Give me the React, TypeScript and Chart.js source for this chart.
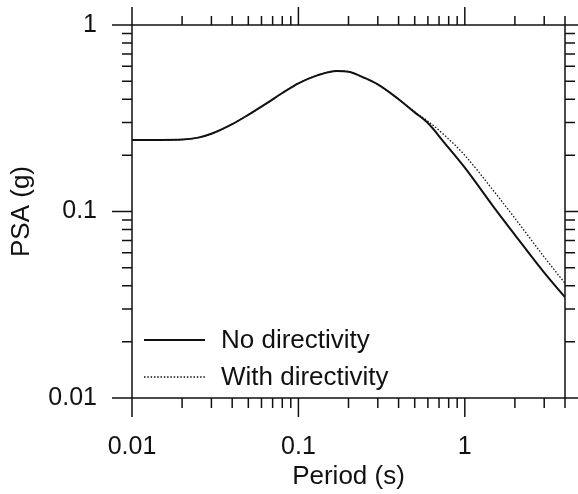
import React, { useEffect, useRef } from "react";
import { Chart, registerables } from "chart.js";

Chart.register(...registerables);

const periods = [0.01, 0.015, 0.02, 0.025, 0.03, 0.04, 0.05, 0.065, 0.08, 0.1, 0.13, 0.17, 0.2, 0.25, 0.3, 0.4, 0.5, 0.6, 0.75, 1, 1.5, 2, 3, 4];
const noDirectivity = [0.242, 0.242, 0.243, 0.249, 0.261, 0.294, 0.33, 0.382, 0.432, 0.487, 0.537, 0.567, 0.562, 0.52, 0.48, 0.4, 0.34, 0.298, 0.235, 0.172, 0.105, 0.075, 0.047, 0.0347];
const withDirectivity = [0.242, 0.242, 0.243, 0.249, 0.261, 0.294, 0.33, 0.382, 0.432, 0.487, 0.537, 0.567, 0.562, 0.52, 0.48, 0.4, 0.342, 0.305, 0.258, 0.2, 0.128, 0.092, 0.057, 0.0412];

const seriesNames = ["No directivity", "With directivity"];
const xTickValues = [0.01, 0.02, 0.03, 0.04, 0.05, 0.06, 0.07, 0.08, 0.09, 0.1, 0.2, 0.3, 0.4, 0.5, 0.6, 0.7, 0.8, 0.9, 1, 2, 3, 4];
const xTickLabels: Record<string, string> = { "0.01": "0.01", "0.1": "0.1", "1": "1" };
const yTickValues = [0.01, 0.02, 0.03, 0.04, 0.05, 0.06, 0.07, 0.08, 0.09, 0.1, 0.2, 0.3, 0.4, 0.5, 0.6, 0.7, 0.8, 0.9, 1];
const yTickLabels: Record<string, string> = { "0.01": "0.01", "0.1": "0.1", "1": "1" };
const xTitle = "Period (s)";
const yTitle = "PSA (g)";

const FONT = "'Liberation Sans', Arial, sans-serif";
const INK = "#111111";

const isDecade = (v: number) => Math.abs(Math.log10(v) - Math.round(Math.log10(v))) < 1e-9;

const framePlugin = {
  id: "frameTicksLegend",
  afterDraw(chart: any) {
    const ctx = chart.ctx;
    const { left, right, top, bottom } = chart.chartArea;
    const xs = chart.scales.x;
    const ys = chart.scales.y;
    ctx.save();
    ctx.strokeStyle = INK;
    ctx.lineWidth = 1.5;
    ctx.lineCap = "butt";
    ctx.beginPath();
    ctx.rect(left, top, right - left, bottom - top);
    ctx.stroke();
    ctx.beginPath();
    for (const v of xTickValues) {
      const px = xs.getPixelForValue(v);
      const major = isDecade(v);
      ctx.moveTo(px, bottom);
      ctx.lineTo(px, bottom + (major ? 19 : 10));
      ctx.moveTo(px, top);
      ctx.lineTo(px, top - (major ? 18 : 9));
    }
    for (const v of yTickValues) {
      const py = ys.getPixelForValue(v);
      const major = isDecade(v);
      ctx.moveTo(left, py);
      ctx.lineTo(left - (major ? 20 : 10), py);
      ctx.moveTo(right, py);
      ctx.lineTo(right + (major ? 20 : 10), py);
    }
    ctx.stroke();

    const ds = chart.data.datasets;
    const rows = [bottom - 58, bottom - 21];
    ctx.font = `26px ${FONT}`;
    ctx.textBaseline = "middle";
    ctx.textAlign = "left";
    ds.forEach((d: any, i: number) => {
      const y = rows[i];
      ctx.beginPath();
      ctx.strokeStyle = d.borderColor;
      ctx.lineWidth = d.borderWidth;
      ctx.setLineDash(d.borderDash || []);
      ctx.moveTo(left + 12, y);
      ctx.lineTo(left + 73, y);
      ctx.stroke();
      ctx.setLineDash([]);
      ctx.fillStyle = INK;
      ctx.fillText(d.label, left + 89, y + 1);
    });
    ctx.restore();
  },
};

export default function App() {
  const ref = useRef<HTMLCanvasElement | null>(null);
  useEffect(() => {
    if (!ref.current) return;
    const chart = new Chart(ref.current, {
      type: "line",
      data: {
        datasets: [
          {
            label: seriesNames[0],
            data: periods.map((p, i) => ({ x: p, y: noDirectivity[i] })),
            borderColor: INK,
            borderWidth: 2,
            pointRadius: 0,
            fill: false,
            cubicInterpolationMode: "monotone",
          },
          {
            label: seriesNames[1],
            data: periods.map((p, i) => ({ x: p, y: withDirectivity[i] })),
            borderColor: INK,
            borderWidth: 1.3,
            borderDash: [1.5, 1.8],
            pointRadius: 0,
            fill: false,
            cubicInterpolationMode: "monotone",
          },
        ],
      },
      options: {
        responsive: false,
        animation: false,
        events: [],
        layout: { padding: { top: 25, right: 13, left: 0, bottom: 0 } },
        plugins: { legend: { display: false }, tooltip: { enabled: false } },
        scales: {
          x: {
            type: "logarithmic",
            position: "bottom",
            min: 0.01,
            max: 4,
            afterBuildTicks: (scale: any) => {
              scale.ticks = xTickValues.map((v) => ({ value: v, major: isDecade(v) }));
            },
            afterFit: (scale: any) => {
              scale.height = 96;
            },
            grid: { display: false, drawTicks: true, tickLength: 34 },
            border: { display: false },
            ticks: {
              autoSkip: false,
              maxRotation: 0,
              padding: 0,
              color: INK,
              font: { family: FONT, size: 25 },
              callback: (value: any) => xTickLabels[String(+Number(value).toPrecision(6))] ?? "",
            },
            title: {
              display: true,
              text: xTitle,
              color: INK,
              font: { family: FONT, size: 26 },
              padding: { top: 0, bottom: 2 },
            },
          },
          y: {
            type: "logarithmic",
            position: "left",
            min: 0.01,
            max: 1,
            afterBuildTicks: (scale: any) => {
              scale.ticks = yTickValues.map((v) => ({ value: v, major: isDecade(v) }));
            },
            afterFit: (scale: any) => {
              scale.width = 132;
            },
            grid: { display: false, drawTicks: true, tickLength: 35 },
            border: { display: false },
            ticks: {
              autoSkip: false,
              padding: 0,
              color: INK,
              font: { family: FONT, size: 25 },
              callback: (value: any) => yTickLabels[String(+Number(value).toPrecision(6))] ?? "",
            },
            title: {
              display: true,
              text: yTitle,
              color: INK,
              font: { family: FONT, size: 26 },
              padding: { top: 6, bottom: 0 },
            },
          },
        },
      },
      plugins: [framePlugin],
    } as any);
    return () => chart.destroy();
  }, []);
  return (
    <div style={{ position: "fixed", left: 0, top: 0, width: 578, height: 494, background: "#fff" }}>
      <canvas ref={ref} width={578} height={494} style={{ display: "block" }} />
    </div>
  );
}
